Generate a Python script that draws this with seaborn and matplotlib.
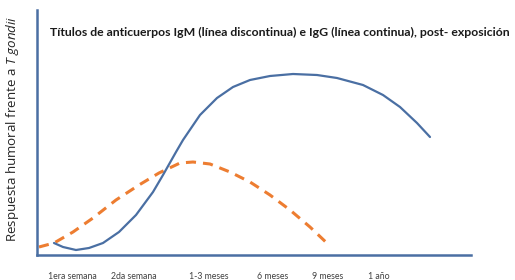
import matplotlib
matplotlib.use("Agg")
import matplotlib.pyplot as plt
import seaborn as sns
import pandas as pd

# tick labels along the time axis and where they sit
time_labels = ['1era semana', '2da semana', '1-3 meses', '6 meses', '9 meses', '1 año']
time_pos = [72, 134, 209, 273, 328, 379]

# IgG (solid)
igg_t = [54, 63, 76, 89, 103, 119, 136, 153, 163, 176, 183, 200, 217, 233, 250,
         270, 293, 317, 337, 363, 383, 400, 417, 430]
igg_v = [12, 8, 5, 7, 12, 23, 40, 63, 80, 103, 115, 140, 157, 168, 175,
         179, 181, 180, 177, 170, 160, 148, 132, 118]

# IgM (dashed)
igm_t = [39, 54, 73, 93, 116, 139, 159, 180, 193, 210, 230, 250, 270, 290, 310, 330]
igm_v = [8, 12, 23, 37, 55, 70, 82, 92, 93, 91, 83, 73, 60, 45, 28, 9]

blue = '#4A6FA3'
orange = '#ED7D31'

sns.set_style("white")
plt.rcParams['font.family'] = ['Lato', 'DejaVu Sans']
plt.rcParams['mathtext.fontset'] = 'custom'
plt.rcParams['mathtext.it'] = 'Open Sans:italic'
plt.rcParams['mathtext.rm'] = 'Open Sans'

fig = plt.figure(figsize=(5.15, 2.8), dpi=100)
ax = fig.add_axes([37/515, 25/280, 434/515, 245/280])

df_igg = pd.DataFrame({'t': igg_t, 'v': igg_v})
df_igm = pd.DataFrame({'t': igm_t, 'v': igm_v})
sns.lineplot(data=df_igm, x='t', y='v', ax=ax, color=orange, lw=2.2,
             linestyle=(0, (3.3, 2.3)), sort=False)
sns.lineplot(data=df_igg, x='t', y='v', ax=ax, color=blue, lw=1.6, sort=False)

ax.set_xlim(37, 471)
ax.set_ylim(0, 245)
ax.set_yticks([])
ax.set_xticks(time_pos)
ax.set_xticklabels(time_labels, fontsize=6.3, color='#404040')
ax.tick_params(axis='x', length=0, pad=12)
ax.set_xlabel('')
ax.set_ylabel('')
for s in ['top', 'right']:
    ax.spines[s].set_visible(False)
for s in ['left', 'bottom']:
    ax.spines[s].set_color(blue)
    ax.spines[s].set_linewidth(1.8)

fig.text(50/515, 1 - 32/280,
         'Títulos de anticuerpos IgM (línea discontinua) e IgG (línea continua), post- exposición',
         fontsize=8.8, fontweight='bold', va='center', ha='left', color='#1a1a1a')
fig.text(13/515, 1 - 129/280, r'Respuesta humoral frente a $T\ gondii$',
         rotation=90, fontsize=9.6, va='center', ha='center', color='#262626',
         family='Open Sans')

fig.savefig('out.png', dpi=100)
